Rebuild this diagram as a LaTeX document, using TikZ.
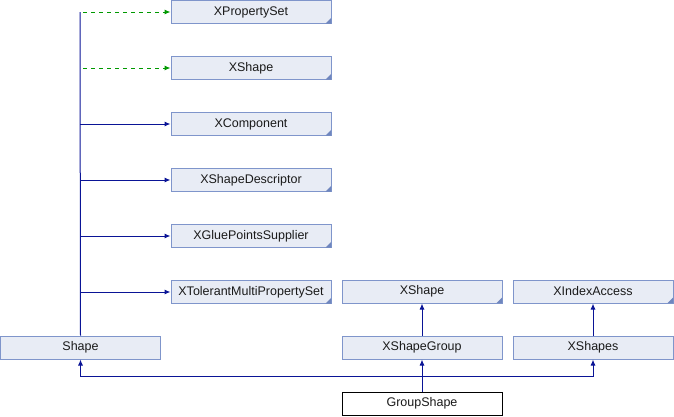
\documentclass[tikz,border=0pt]{standalone}
\usepackage{fontspec}
\setmainfont{Liberation Sans}
\usetikzlibrary{arrows.meta}
\definecolor{boxfill}{HTML}{E8ECF5}
\definecolor{boxline}{HTML}{7F95CB}
\definecolor{foldc}{HTML}{6F86BE}
\definecolor{arrblue}{HTML}{0A1496}
\definecolor{arrgreen}{HTML}{009900}
\definecolor{txt}{HTML}{1A1A1A}
\tikzset{
  cls/.style={draw=boxline, fill=boxfill, line width=1pt, minimum width=160pt, minimum height=23pt, inner sep=0pt, text=txt, font=\fontsize{12.5}{14}\selectfont, anchor=center},
  ifc/.style={cls},
  fold/.style={fill=foldc},
  mainc/.style={cls, draw=black, fill=white},
  inh/.style={draw=arrblue, line width=1pt, -{Latex[length=6pt,width=5pt]}},
  uses/.style={draw=arrgreen, line width=1pt, dashed, dash pattern=on 4pt off 4pt, -{Latex[length=6pt,width=5pt]}},
}
\begin{document}
\begin{tikzpicture}[x=1pt,y=-1pt]
\useasboundingbox (0,0) rectangle (674,416);
\node[ifc] (xps) at (251,12) {XPropertySet};
\node[ifc] (xsh) at (251,68) {XShape};
\node[ifc] (xco) at (251,124) {XComponent};
\node[ifc] (xsd) at (251,180) {XShapeDescriptor};
\node[ifc] (xgp) at (251,236) {XGluePointsSupplier};
\node[ifc] (xtm) at (251,292) {XTolerantMultiPropertySet};
\node[cls] (shape) at (80.5,347.5) {Shape};
\node[ifc] (xsh2) at (422,291.5) {XShape};
\node[ifc] (xia) at (593,291.5) {XIndexAccess};
\node[cls] (xsg) at (422,347.5) {XShapeGroup};
\node[cls] (xss) at (593,347.5) {XShapes};
\node[mainc] (gs) at (422,403.5) {GroupShape};
\foreach \n in {xps,xsh,xco,xsd,xgp,xtm,xsh2,xia}{
  \fill[fold] (\n.south east) ++(-6,-0.5) -- ++(5.5,0) -- ++(0,-5.5) -- cycle;
}
\coordinate (top) at (80,12);
\draw[arrblue, line width=1pt] (shape.north) -- (top);
\draw[uses] (top) ++(3,0) -- (xps.west);
\draw[uses] (80,68) ++(3,0) -- (xsh.west);
\draw[inh] (80,124) -- (xco.west);
\draw[inh] (80,180) -- (xsd.west);
\draw[inh] (80,236) -- (xgp.west);
\draw[inh] (80,292) -- (xtm.west);
\draw[inh] (xsg.north) -- (xsh2.south);
\draw[inh] (xss.north) -- (xia.south);
\draw[inh] (gs.north) -- (xsg.south);
\draw[inh] (gs.north) -- (422,376) -| (shape.south);
\draw[inh] (gs.north) -- (422,376) -| (xss.south);
\end{tikzpicture}
\end{document}
